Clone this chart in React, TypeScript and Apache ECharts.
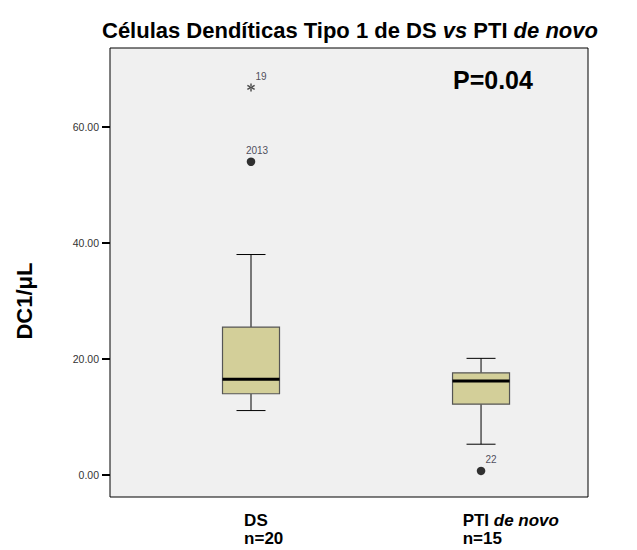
import React, { useEffect, useRef } from "react";
import * as echarts from "echarts";

// ---- data ----
const groups = ["DS", "PTI de novo"];
const groupN = [20, 15];
const groupPos = [1, 2];
// [min whisker, Q1, median, Q3, max whisker]
const boxStats = [
  [11.1, 14.0, 16.5, 25.5, 38.0],
  [5.3, 12.2, 16.2, 17.6, 20.1],
];
// outliers: [group position, value, case label]
const circleOutliers: [number, number, string][] = [
  [1, 54.0, "2013"],
  [2, 0.7, "22"],
];
const extremeOutliers: [number, number, string][] = [[1, 66.8, "19"]];
const yTicks = [0, 20, 40, 60];
const pValueText = "P=0.04";

const FONT = "'Liberation Sans', Arial, sans-serif";
const STAR =
  "path://M-1.7 -10 L1.7 -10 L1.7 10 L-1.7 10 Z M7.81 6.47 L9.51 3.53 L-7.81 -6.47 L-9.51 -3.53 Z M-9.51 3.53 L-7.81 6.47 L9.51 -3.53 L7.81 -6.47 Z";

export default function App() {
  const ref = useRef<HTMLDivElement>(null);
  useEffect(() => {
    if (!ref.current) return;
    const chart = echarts.init(ref.current, null, { renderer: "svg" });
    const boxData = boxStats.map((s, i) => [groupPos[i], ...s]);
    const option: any = {
      animation: false,
      backgroundColor: "#ffffff",
      textStyle: { fontFamily: FONT },
      title: {
        text: "{b|Células Dendíticas Tipo 1 de DS }{bi|vs}{b| PTI }{bi|de novo}",
        left: 97,
        top: 14,
        textStyle: {
          rich: {
            b: { fontFamily: FONT, fontWeight: "bold", fontSize: 22, color: "#000" },
            bi: { fontFamily: FONT, fontWeight: "bold", fontStyle: "italic", fontSize: 22, color: "#000" },
          },
        },
      },
      grid: {
        left: 110,
        right: 49,
        top: 48,
        bottom: 53,
        show: true,
        backgroundColor: "#F0F0F0",
        borderColor: "#000",
        borderWidth: 1,
      },
      xAxis: {
        type: "value",
        min: 0.387,
        max: 2.465,
        splitLine: { show: false },
        axisLine: { show: false },
        axisTick: { show: false },
        axisLabel: {
          customValues: [0.97, 1.92],
          align: "left",
          verticalAlign: "top",
          margin: 14,
          formatter: (v: number) => {
            const idx = v < 1.5 ? 0 : 1;
            const nm =
              idx === 0 ? "{b|" + groups[0] + "}" : "{b|PTI }{bi|de novo}";
            return nm + "\n{b|n=" + groupN[idx] + "}";
          },
          rich: {
            b: { fontFamily: FONT, fontWeight: "bold", fontSize: 17, color: "#000", lineHeight: 18 },
            bi: { fontFamily: FONT, fontWeight: "bold", fontStyle: "italic", fontSize: 17, color: "#000", lineHeight: 18 },
          },
        },
      },
      yAxis: {
        type: "value",
        min: -3.8,
        max: 73.6,
        splitLine: { show: false },
        axisLine: { show: false },
        axisTick: {
          show: true,
          customValues: yTicks,
          length: 8,
          lineStyle: { color: "#000", width: 2 },
        },
        axisLabel: {
          customValues: yTicks,
          formatter: (v: number) => v.toFixed(2),
          fontSize: 10.5,
          color: "#333",
          margin: 11,
          fontFamily: FONT,
        },
      },
      graphic: [
        {
          type: "text",
          left: 453,
          top: 67,
          style: { text: pValueText, font: "bold 25px " + FONT, fill: "#000" },
        },
        {
          type: "text",
          x: 24,
          y: 301,
          rotation: Math.PI / 2,
          style: {
            text: "DC1/μL",
            font: "bold 22px " + FONT,
            fill: "#000",
            align: "center",
            verticalAlign: "middle",
          },
        },
      ],
      series: [
        {
          type: "custom",
          data: boxData,
          encode: { x: 0, y: [1, 2, 3, 4, 5] },
          renderItem: (params: any, api: any) => {
            const x = api.value(0);
            const lo = api.coord([x, api.value(1)]);
            const q1 = api.coord([x, api.value(2)]);
            const med = api.coord([x, api.value(3)]);
            const q3 = api.coord([x, api.value(4)]);
            const hi = api.coord([x, api.value(5)]);
            const cx = lo[0];
            const hw = 28.5;
            const cw = 14.5;
            const ls = { stroke: "#000", lineWidth: 1 };
            return {
              type: "group",
              children: [
                { type: "line", shape: { x1: cx, y1: q3[1], x2: cx, y2: hi[1] }, style: ls },
                { type: "line", shape: { x1: cx, y1: q1[1], x2: cx, y2: lo[1] }, style: ls },
                { type: "line", shape: { x1: cx - cw, y1: hi[1], x2: cx + cw, y2: hi[1] }, style: ls },
                { type: "line", shape: { x1: cx - cw, y1: lo[1], x2: cx + cw, y2: lo[1] }, style: ls },
                {
                  type: "rect",
                  shape: { x: cx - hw, y: q3[1], width: hw * 2, height: q1[1] - q3[1] },
                  style: { fill: "#D3CF99", stroke: "#555", lineWidth: 1.2 },
                },
                {
                  type: "line",
                  shape: { x1: cx - hw, y1: med[1], x2: cx + hw, y2: med[1] },
                  style: { stroke: "#000", lineWidth: 3 },
                },
              ],
            };
          },
        },
        {
          type: "scatter",
          symbol: "circle",
          symbolSize: 8.5,
          itemStyle: { color: "#000" },
          data: circleOutliers.map((o) => ({
            value: [o[0], o[1]],
            name: o[2],
            label: { offset: o[2] === "22" ? [10, 3] : [6, 3] },
          })),
          label: {
            show: true,
            position: "top",
            formatter: "{b}",
            fontSize: 10,
            color: "#223",
            fontFamily: FONT,
          },
        },
        {
          type: "scatter",
          symbol: STAR,
          symbolSize: 8,
          itemStyle: { color: "#222" },
          data: extremeOutliers.map((o) => ({ value: [o[0], o[1]], name: o[2] })),
          label: {
            show: true,
            position: "top",
            offset: [10, 3],
            formatter: "{b}",
            fontSize: 10,
            color: "#223",
            fontFamily: FONT,
          },
        },
      ],
    };
    chart.setOption(option);
    return () => chart.dispose();
  }, []);
  return (
    <div
      ref={ref}
      style={{ position: "absolute", left: 0, top: 0, width: 637, height: 550 }}
    />
  );
}
